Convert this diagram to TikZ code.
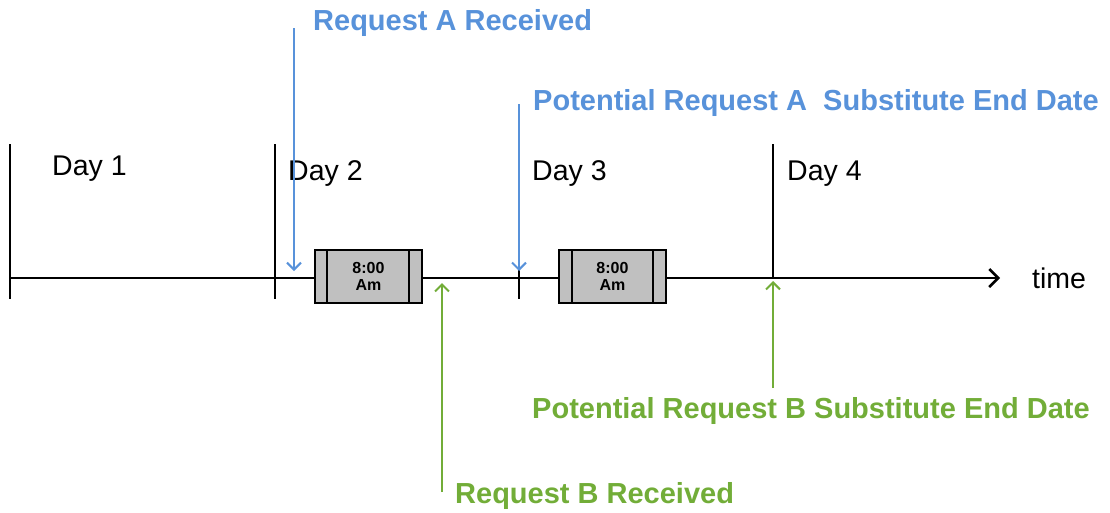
\documentclass[tikz,border=0pt]{standalone}
\usepackage{fontspec}
\setmainfont{Liberation Sans}
\usetikzlibrary{arrows.meta}
\definecolor{ablue}{HTML}{5892DA}
\definecolor{bgreen}{HTML}{72AD38}
\definecolor{boxgray}{HTML}{C0C0C0}
\tikzset{
  daylbl/.style={anchor=base west, inner sep=0pt, font=\fontsize{28.5}{30}\selectfont},
  alabel/.style={anchor=base west, inner sep=0pt, text=ablue, font=\fontsize{29}{31}\selectfont\bfseries},
  blabel/.style={anchor=base west, inner sep=0pt, text=bgreen, font=\fontsize{29}{31}\selectfont\bfseries},
  aarrow/.style={draw=ablue, line width=2pt, -{Straight Barb[length=7pt,width=14pt,line width=2pt]}},
  barrow/.style={draw=bgreen, line width=2pt, -{Straight Barb[length=7pt,width=14pt,line width=2pt]}},
  tick/.style={line width=2pt},
  slot/.style={draw, fill=boxgray, line width=2pt, minimum width=107pt, minimum height=53pt, inner sep=0pt,
     align=center, font=\fontsize{16}{17}\selectfont\bfseries},
}
\begin{document}
\begin{tikzpicture}[x=1pt,y=-1pt]
\useasboundingbox (0,0) rectangle (1110,512);
% axis
\coordinate (ax0) at (10,278);
\coordinate (ax1) at (1000,278);
\draw[line width=2.5pt, -{Straight Barb[length=9pt,width=18pt,line width=2.5pt]}] (ax0) -- (ax1);
\node[daylbl] (time) at (1032,288) {time};
% ticks
\coordinate (t1a) at (10,144); \coordinate (t1b) at (10,299);
\coordinate (t2a) at (275,144); \coordinate (t2b) at (275,299);
\coordinate (t3a) at (519,262); \coordinate (t3b) at (519,299);
\coordinate (t4a) at (773,144); \coordinate (t4b) at (773,278);
\draw[tick] (t1a) -- (t1b);
\draw[tick] (t2a) -- (t2b);
\draw[tick] (t3a) -- (t3b);
\draw[tick] (t4a) -- (t4b);
% day labels
\node[daylbl] (d1) at (52,175) {Day 1};
\node[daylbl] (d2) at (288,180) {Day 2};
\node[daylbl] (d3) at (532,180) {Day 3};
\node[daylbl] (d4) at (787,180) {Day 4};
% boxes
\node[slot] (b1) at (368.5,276.5) {8:00\\Am};
\draw[line width=2pt] ([xshift=13pt]b1.north west) -- ([xshift=13pt]b1.south west);
\draw[line width=2pt] ([xshift=-14pt]b1.north east) -- ([xshift=-14pt]b1.south east);
\node[slot] (b2) at (612.5,276.5) {8:00\\Am};
\draw[line width=2pt] ([xshift=14pt]b2.north west) -- ([xshift=14pt]b2.south west);
\draw[line width=2pt] ([xshift=-14pt]b2.north east) -- ([xshift=-14pt]b2.south east);
% request A
\node[alabel] (ra) at (313,30) {Request A Received};
\coordinate (ra0) at (294,28);
\coordinate (ra1) at (294,271);
\draw[aarrow] (ra0) -- (ra1);
\node[alabel] (pa) at (533,110) {Potential Request A\ \ Substitute End Date};
\coordinate (pa0) at (519,104);
\coordinate (pa1) at (519,271);
\draw[aarrow] (pa0) -- (pa1);
% request B
\node[blabel] (rb) at (455,503) {Request B Received};
\coordinate (rb0) at (442,492);
\coordinate (rb1) at (442,283);
\draw[barrow] (rb0) -- (rb1);
\node[blabel] (pb) at (532,418) {Potential Request B Substitute End Date};
\coordinate (pb0) at (773,388);
\coordinate (pb1) at (773,281);
\draw[barrow] (pb0) -- (pb1);
\end{tikzpicture}
\end{document}
